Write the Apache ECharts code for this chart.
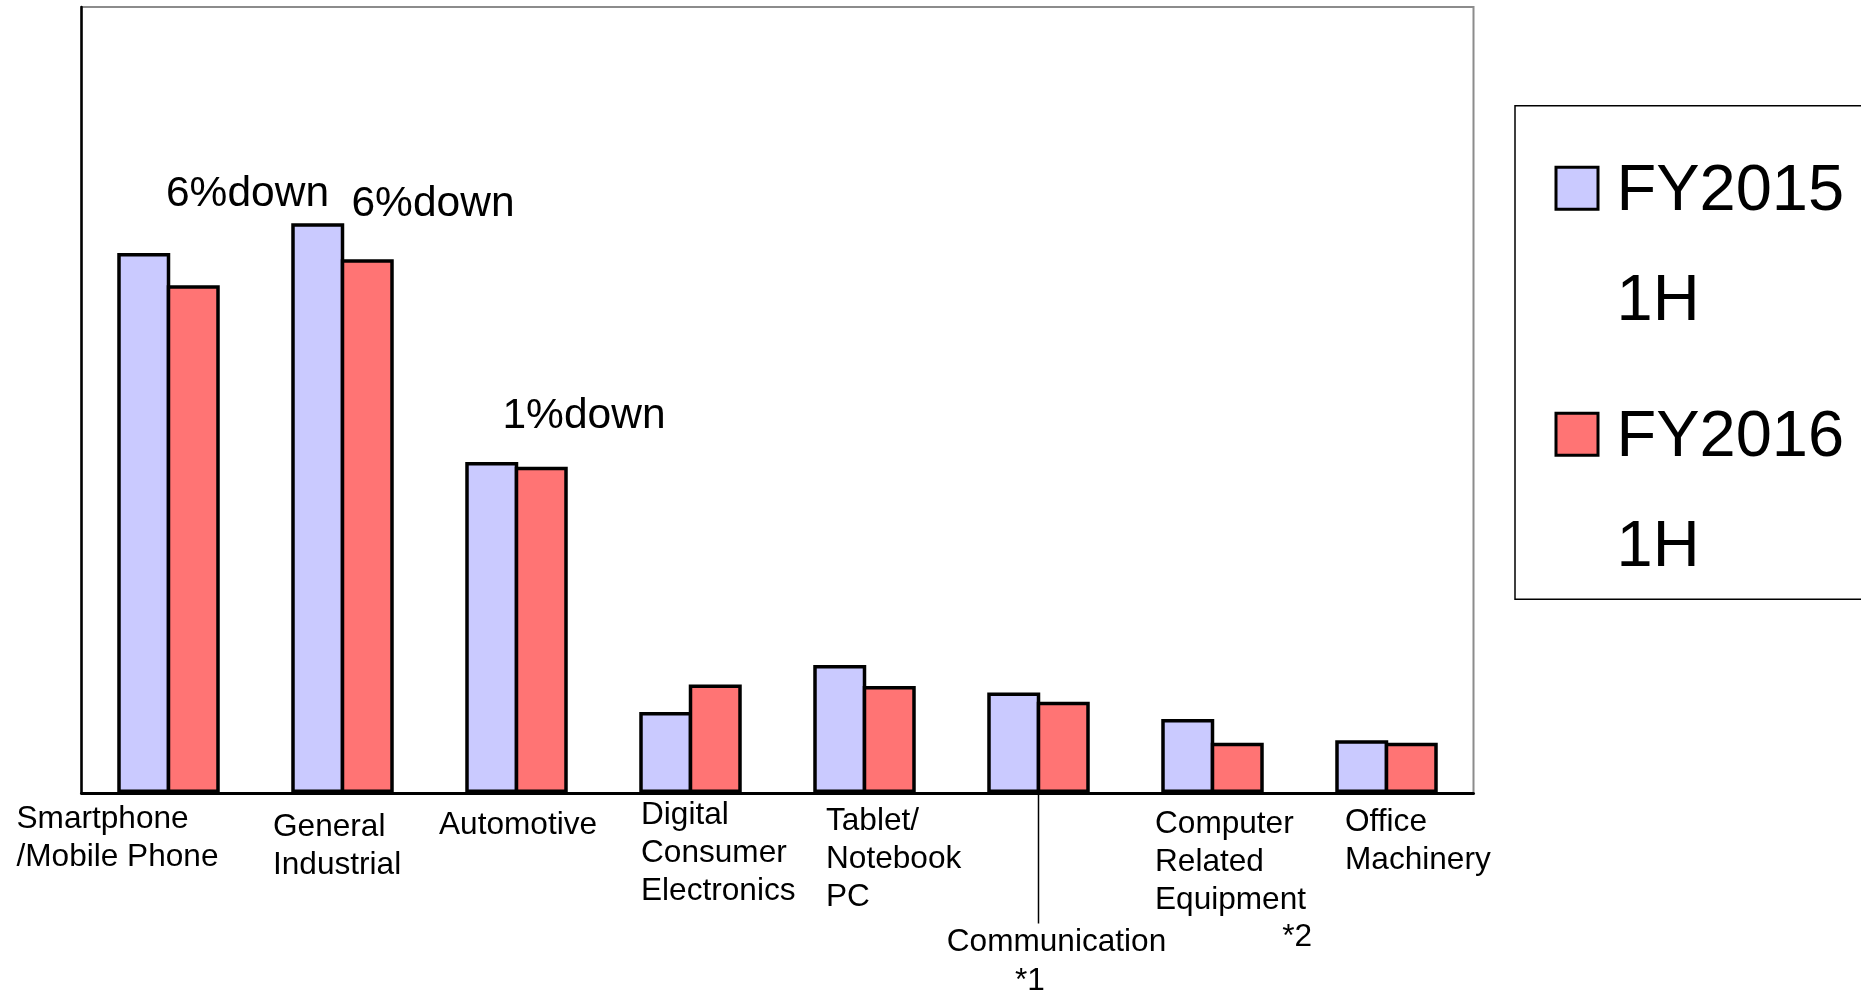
<!DOCTYPE html>
<html>
<head>
<meta charset="utf-8">
<script src="https://cdn.jsdelivr.net/npm/echarts@6/dist/echarts.min.js"></script>
<style>
  html, body { margin: 0; padding: 0; background: #fff; }
  #chart { width: 1861px; height: 992px; }
</style>
</head>
<body>
<div id="chart"></div>
<script>
// Demand by application, first half of FY2015 vs first half of FY2016 (relative scale)
const categories = [
  'Smartphone\n/Mobile Phone',
  'General\nIndustrial',
  'Automotive',
  'Digital\nConsumer\nElectronics',
  'Tablet/\nNotebook\nPC',
  'Communication',
  'Computer\nRelated\nEquipment',
  'Office\nMachinery'
];
const seriesNames = ['FY2015 1H', 'FY2016 1H'];
const fy2015 = [68.7, 72.5, 42.1, 10.3, 16.3, 12.8, 9.4, 6.7];
const fy2016 = [64.6, 67.9, 41.5, 13.8, 13.6, 11.6, 6.4, 6.4];

// change callouts and the category each one sits next to
const noteTexts = ['6%down', '6%down', '1%down'];
const noteCategories = [0, 1, 2];

// footnote markers attached to category labels
const footTexts = ['*1', '*2'];
const footCategories = [5, 6];

// ---- styling / layout ----
const FONT = "'Liberation Sans', Arial, Helvetica, sans-serif";
const COLORS = ['#cacaff', '#ff7474'];
const BAR_W = 53;
const BAR_BORDER = 3.5;
const LABEL_SIZE = 31.6;
const LABEL_LH = 38;
// label placement: dx = offset of the label from the category centre,
// dy = distance from the baseline to the centre of the first text line
const labelLayout = [
  { dx: -152, dy: 26 },
  { dx: -69.5, dy: 34 },
  { dx: -77.5, dy: 32 },
  { dx: -49.5, dy: 22.5 },
  { dx: -38.5, dy: 28 },
  { dx: 18, dy: 149.5, align: 'center', leader: true },
  { dx: -57.5, dy: 31 },
  { dx: -41.5, dy: 29.5 }
];
// callouts: offset from the top of the FY2015 bar of their category
const noteLayout = [
  { dx: 79, dy: -59 },
  { dx: 90.5, dy: -19 },
  { dx: 67.5, dy: -46 }
];
const footLayout = [
  { dx: -23.5, dy: 188, align: 'left' },
  { dx: 99.5, dy: 144, align: 'right' }
];

const chart = echarts.init(document.getElementById('chart'), null, { renderer: 'canvas' });

// legend entries: square swatch + year on the first line, half-year on the second
const LEG_LH = 110;
const legendRich = {
  gap: { width: 20, lineHeight: LEG_LH },
  ind: { width: 59, lineHeight: LEG_LH },
  t: { fontSize: 65, fontFamily: FONT, color: '#000', lineHeight: LEG_LH, padding: [7, 0, 0, 0] }
};
COLORS.forEach((c, k) => {
  legendRich['box' + k] = {
    width: 39, height: 39, backgroundColor: c,
    borderColor: '#000', borderWidth: 3, lineHeight: LEG_LH
  };
});

chart.setOption({
  animation: false,
  backgroundColor: '#fff',
  textStyle: { fontFamily: FONT },
  grid: {
    left: 81.5, right: 387.5, top: 7, bottom: 199,
    show: true, borderColor: '#8c8c8c', borderWidth: 2,
    backgroundColor: 'transparent'
  },
  legend: {
    orient: 'vertical',
    left: 1515, top: 105.7,
    padding: [27.5, 90, 0, 37.5],
    itemGap: 26,
    itemWidth: 0, itemHeight: 0,
    itemStyle: { opacity: 0, borderWidth: 0 },
    borderColor: '#000', borderWidth: 1.5,
    data: seriesNames,
    textStyle: { fontSize: 65, fontFamily: FONT, color: '#000', lineHeight: LEG_LH, rich: legendRich },
    formatter: name => {
      const k = seriesNames.indexOf(name);
      const parts = name.split(' ');
      return '{box' + k + '| }{gap| }{t|' + parts[0] + '}\n{ind| }{t|' + parts[1] + '}';
    }
  },
  xAxis: {
    type: 'category',
    data: categories,
    axisLine: { lineStyle: { color: '#000', width: 3 } },
    axisTick: { inside: true, length: 12, interval: 0, lineStyle: { color: '#000', width: 1.5 } },
    axisLabel: { show: false },
    splitLine: { show: false }
  },
  yAxis: {
    type: 'value',
    min: 0, max: 100,
    axisLine: { show: true, lineStyle: { color: '#000', width: 2.5 } },
    axisTick: { show: false },
    axisLabel: { show: false },
    splitLine: { show: false }
  },
  series: seriesNames.map((nm, k) => ({
    name: nm,
    type: 'bar',
    data: k ? fy2016 : fy2015,
    barWidth: BAR_W,
    // neighbouring bars share one border line
    barGap: (-100 * BAR_BORDER / BAR_W).toFixed(2) + '%',
    itemStyle: { color: COLORS[k], borderColor: '#000', borderWidth: BAR_BORDER },
    emphasis: { disabled: true }
  }))
});

// category labels, leader line, footnotes and callouts placed from the axis scales
function textEl(x, y, text, size, align, vAlign, lh) {
  return {
    type: 'text', x: x, y: y, silent: true,
    style: {
      text: text, fontSize: size, fontFamily: FONT, fill: '#000',
      align: align, textAlign: align,
      verticalAlign: vAlign, textVerticalAlign: vAlign,
      lineHeight: lh
    }
  };
}

function buildGraphics() {
  const base = chart.convertToPixel({ yAxisIndex: 0 }, 0);
  const els = [];
  categories.forEach((name, i) => {
    const cx = chart.convertToPixel({ xAxisIndex: 0 }, i);
    const L = labelLayout[i];
    const top = base + L.dy - LABEL_LH / 2;
    els.push(textEl(cx + L.dx, top, name, LABEL_SIZE, L.align || 'left', 'top', LABEL_LH));
    if (L.leader) {
      els.push({
        type: 'line', silent: true,
        shape: { x1: cx, y1: base, x2: cx, y2: top },
        style: { stroke: '#000', lineWidth: 1.5 }
      });
    }
  });
  footTexts.forEach((t, j) => {
    const cx = chart.convertToPixel({ xAxisIndex: 0 }, footCategories[j]);
    const F = footLayout[j];
    els.push(textEl(cx + F.dx, base + F.dy, t, LABEL_SIZE, F.align, 'middle', LABEL_LH));
  });
  noteTexts.forEach((t, j) => {
    const c = noteCategories[j];
    const p = chart.convertToPixel({ gridIndex: 0 }, [c, fy2015[c]]);
    const N = noteLayout[j];
    els.push(textEl(p[0] + N.dx, p[1] + N.dy, t, 42.5, 'center', 'middle', 48));
  });
  return els;
}

chart.setOption({ graphic: buildGraphics() });
</script>
</body>
</html>
